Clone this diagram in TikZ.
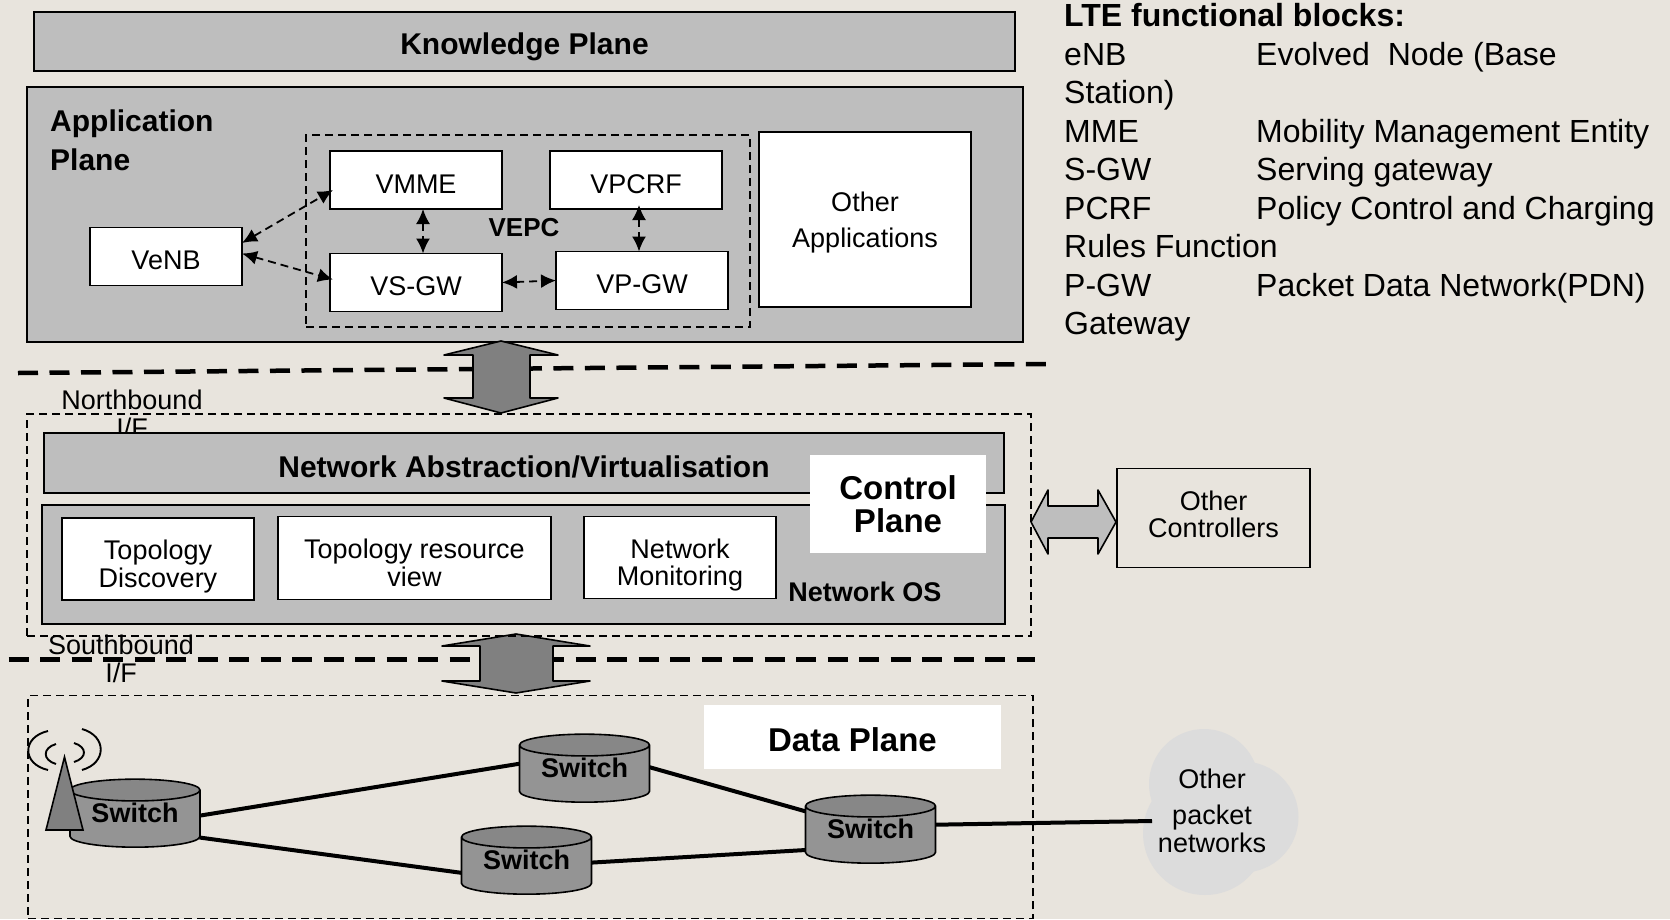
\documentclass[tikz,border=0pt]{standalone}
\usepackage{fontspec}
\setmainfont{Liberation Sans}
\usetikzlibrary{shapes.geometric,arrows.meta}
\definecolor{paper}{HTML}{E8E4DD}
\definecolor{planegray}{HTML}{BEBEBE}
\definecolor{arrowgray}{HTML}{808080}
\definecolor{cloudgray}{HTML}{DCDCDC}
\tikzset{
  txt/.style={font=\fontsize{27}{27.5}\selectfont,align=center,inner sep=0pt},
  bold/.style={font=\fontsize{30}{30}\selectfont\bfseries,align=center,inner sep=0pt},
  big/.style={font=\fontsize{33}{33}\selectfont\bfseries,align=center,inner sep=0pt},
  planebox/.style={draw,line width=1.6pt,fill=planegray,bold,outer sep=0pt},
  whitebox/.style={draw,line width=1.6pt,fill=white,txt,outer sep=0pt},
  onetext/.style={text height=26pt,text depth=0pt},
  twotext/.style={text height=56pt,text depth=0pt},
  labelbox/.style={fill=white,big,outer sep=0pt},
  dashbox/.style={draw,line width=1.4pt,dash pattern=on 8pt off 5pt},
  border/.style={line width=4.5pt,dash pattern=on 20pt off 11.5pt},
  bigarrow/.style={draw,line width=1.6pt,line join=round,fill=arrowgray},
  link/.style={line width=4pt},
  wave/.style={line width=1.9pt},
  peer/.style={line width=1.8pt,dash pattern=on 8pt off 5pt,{Latex[length=15pt,width=14pt]}-{Latex[length=15pt,width=14pt]}},
  switchnode/.style={cylinder,shape border rotate=90,draw,line width=1.6pt,aspect=0.25,
    minimum width=130pt,minimum height=68pt,inner sep=0pt,outer sep=0pt,text depth=13pt,
    cylinder uses custom fill,cylinder body fill=black!42,cylinder end fill=black!47,
    font=\fontsize{27}{28}\selectfont\bfseries},
  lobe/.style={circle,fill=cloudgray,inner sep=0pt},
  list/.style={font=\fontsize{32}{32}\selectfont,anchor=base west,inner sep=0pt}
}
\begin{document}
\begin{tikzpicture}[x=1pt,y=-1pt]
  \useasboundingbox[fill=paper] (0,0) rectangle (1670,919);

  % application plane
  \node[planebox,onetext,minimum width=981pt,minimum height=59pt] (know) at (524.5,41.5) {Knowledge Plane};
  \node[planebox,minimum width=996pt,minimum height=255pt] (app) at (525,214.5) {};
  \node[bold,align=left,anchor=north west] (apptxt) at (50,110) {Application\\[9pt]Plane};
  \node[dashbox,minimum width=444pt,minimum height=192pt] (vepc) at (528,231) {};
  \node[whitebox,onetext,minimum width=172pt,minimum height=58pt] (vmme) at (416,180) {VMME};
  \node[whitebox,onetext,minimum width=172pt,minimum height=58pt] (vpcrf) at (636,180) {VPCRF};
  \node[whitebox,onetext,minimum width=172pt,minimum height=58pt] (vsgw) at (416,282.5) {VS-GW};
  \node[whitebox,onetext,minimum width=172pt,minimum height=58pt] (vpgw) at (642,280.5) {VP-GW};
  \node[whitebox,onetext,minimum width=152pt,minimum height=58pt] (venb) at (166,256.5) {VeNB};
  \node[whitebox,text depth=0pt,minimum width=212pt,minimum height=175pt] (otherapp) at (865,219.5) {Other\\[8pt]Applications};
  \node[font=\fontsize{26}{28}\selectfont\bfseries,inner sep=0pt] (vepctxt) at (524,228) {VEPC};
  \draw[peer] ([yshift=13.5pt]venb.east) -- ([xshift=3pt,yshift=-10pt]vmme.west);
  \draw[peer] ([yshift=3pt]venb.east) -- ([xshift=3pt,yshift=3pt]vsgw.west);
  \draw[peer] ([xshift=7pt]vmme.south) -- ([xshift=7pt]vsgw.north);
  \draw[peer] ([xshift=3pt,yshift=4pt]vpcrf.south) -- ([xshift=-3pt]vpgw.north);
  \draw[peer] (vsgw.east) -- (vpgw.west);

  % the two bounds
  \coordinate (northa) at (18,373);
  \coordinate (northb) at (1046,364);
  \coordinate (southa) at (8.5,659.5);
  \coordinate (southb) at (1035,659.5);
  \draw[border] (northa) -- (northb);
  \draw[border] (southa) -- (southb);
  \path[bigarrow] (501,341) -- (558,355) -- (530,355) -- (530,398) -- (558,398) -- (501,413)
    -- (444,398) -- (473,398) -- (473,355) -- (444,355) -- cycle;
  \path[bigarrow] (516,634) -- (590,646) -- (553,646) -- (553,681) -- (590,681) -- (516,693)
    -- (442,681) -- (480,681) -- (480,646) -- (442,646) -- cycle;

  % control plane
  \node[txt] (nbound) at (132,414) {Northbound\\I/F};
  \node[txt] (sbound) at (121,659) {Southbound\\I/F};
  \node[dashbox,minimum width=1004pt,minimum height=222pt] (ctrl) at (529,525) {};
  \node[planebox,minimum width=960pt,minimum height=60pt] (abstr) at (524,463) {};
  \node[bold] (abstrtxt) at (524,467) {Network Abstraction/Virtualisation};
  \node[planebox,minimum width=963pt,minimum height=119pt] (nos) at (523.5,564.5) {};
  \node[whitebox,twotext,minimum width=192pt,minimum height=82pt] (topo) at (158,559) {Topology\\Discovery};
  \node[whitebox,twotext,minimum width=273pt,minimum height=83pt] (topores) at (414.5,558) {Topology resource\\view};
  \node[whitebox,twotext,minimum width=192pt,minimum height=82pt] (netmon) at (680,557.5) {Network\\Monitoring};
  \node[labelbox,text depth=-2pt,minimum width=176pt,minimum height=98pt] (ctrltxt) at (898,504) {Control\\Plane};
  \node[font=\fontsize{27}{28}\selectfont\bfseries,inner sep=0pt] (nostxt) at (865,592) {Network OS};
  \node[draw,line width=1.6pt,txt,text depth=7.5pt,minimum width=193pt,minimum height=99pt] (otherctl) at (1213.5,518) {Other\\Controllers};
  \path[bigarrow,fill=planegray] (1031,522) -- (1048,490) -- (1048,506) -- (1098,506) -- (1098,490)
    -- (1116,522) -- (1098,554) -- (1098,538) -- (1048,538) -- (1048,554) -- cycle;

  % data plane
  \node[dashbox,minimum width=1005pt,minimum height=222.5pt] (data) at (530.5,807) {};
  \node[labelbox,text height=28pt,text depth=0pt,minimum width=297pt,minimum height=64pt] (datatxt) at (852.5,737) {Data Plane};
  \node[switchnode] (swa) at (135,819) {Switch};
  \node[switchnode] (swb) at (584.5,774) {Switch};
  \node[switchnode] (swc) at (526.5,866) {Switch};
  \node[switchnode] (swd) at (870.5,835) {Switch};

  % antenna
  \draw[line width=1.6pt,fill=arrowgray] (64.5,757) -- (83,830) -- (46,830) -- cycle;
  \draw[wave] (48,731) .. controls (21.7,737) and (21.7,764) .. (48,770);
  \draw[wave] (82,729) .. controls (107,736) and (107,763) .. (82,770);
  \draw[wave] (56,744) .. controls (42.3,748) and (42.3,760) .. (56,764);
  \draw[wave] (74,743) .. controls (87.3,747) and (87.3,758) .. (74,762);

  % other networks
  \node[lobe,minimum size=110pt] (lobea) at (1204,784) {};
  \node[lobe,minimum size=111pt] (lobeb) at (1243,817) {};
  \node[lobe,minimum size=124pt] (lobec) at (1205,833) {};
  \coordinate (cloudin) at (1152,821);
  \node[txt] (cloudtxta) at (1212,779) {Other};
  \node[txt] (cloudtxtb) at (1212,829) {packet\\networks};

  \draw[link] (swa.3.5) -- (swb.171);
  \draw[link] (swa.344.5) -- (swc.186);
  \draw[link] (swb.6) -- (swd.160);
  \draw[link] (swc.3) -- (swd.193);
  \draw[link] (swd.9) -- (cloudin);

  % list of blocks
  \node[list,font=\fontsize{32}{32}\selectfont\bfseries] (listhead) at (1064,26) {LTE functional blocks:};
  \foreach \y/\abbr/\desc in {65/eNB/Evolved\ \ Node (Base,
    142/MME/Mobility Management Entity,
    180/S-GW/Serving gateway,
    219/PCRF/Policy Control and Charging,
    296/P-GW/Packet Data Network(PDN)}
  {
    \node[list] at (1064,\y) {\abbr};
    \node[list] at (1256,\y) {\desc};
  }
  \foreach \y/\more in {103.5/Station),257/Rules Function,334/Gateway}
    \node[list] at (1064,\y) {\more};
\end{tikzpicture}
\end{document}
